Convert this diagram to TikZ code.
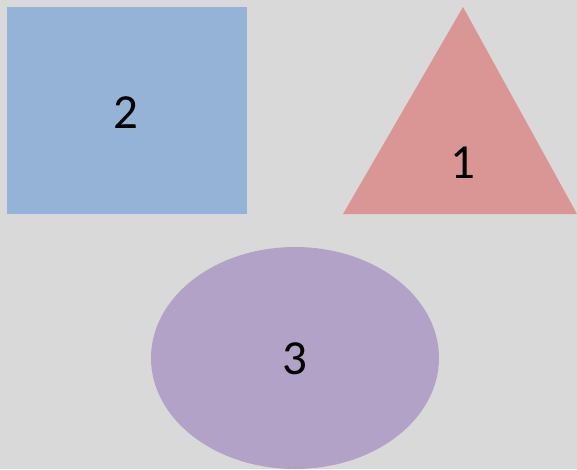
\documentclass[tikz,border=0pt]{standalone}
\usepackage{fontspec}
\setmainfont{Carlito}
\usepackage{tikz}
\usetikzlibrary{positioning,calc}
\usepackage{xcolor}
\definecolor{bgGray}{HTML}{D9D9D9}
\definecolor{boxBlue}{HTML}{95B3D7}
\definecolor{triRed}{HTML}{D99694}
\definecolor{ovalPurple}{HTML}{B3A2C7}
\tikzset{numlabel/.style={font=\fontsize{49}{49}\selectfont,text=black,inner sep=0pt}}

\begin{document}
\begin{tikzpicture}[x=1pt,y=-1pt]
  \fill[bgGray] (0,0) rectangle (577,469);
  \useasboundingbox (0,0) rectangle (577,469);
  \fill[boxBlue] (7,7) rectangle (247,214);
  \fill[triRed] (463,7) -- (577,214) -- (343,214) -- cycle;
  \fill[ovalPurple] (295,358) ellipse [x radius=144, y radius=111];
  \node[numlabel] (two) at (126,113) {2};
  \node[numlabel] (one) at (463,163) {1};
  \node[numlabel] (three) at (295,359) {3};
\end{tikzpicture}
\end{document}
